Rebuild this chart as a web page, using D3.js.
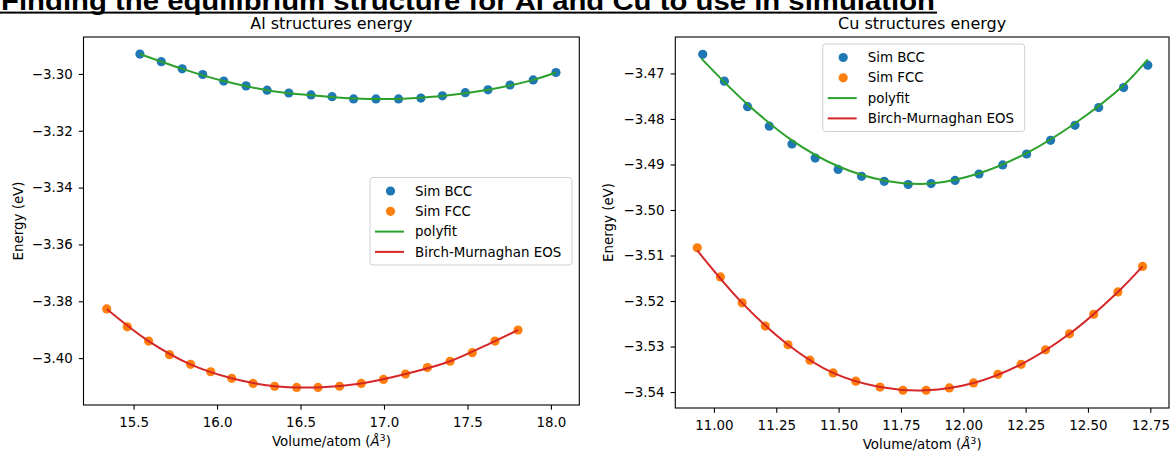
<!DOCTYPE html>
<html>
<head>
<meta charset="utf-8">
<script src="https://cdn.jsdelivr.net/npm/d3@7"></script>
<style>
  body { margin: 0; background: #fff; }
  svg { display: block; }
  text { font-family: "DejaVu Sans", sans-serif; fill: #000; }
</style>
</head>
<body>
<svg id="chart"></svg>
<script>
// Al data
const alBccVol = [15.538, 15.666, 15.791, 15.914, 16.040, 16.174, 16.300, 16.430, 16.563, 16.689,
                  16.818, 16.952, 17.087, 17.221, 17.350, 17.487, 17.623, 17.755, 17.894, 18.030]
const alBccE   = [-3.2930, -3.2957, -3.2982, -3.3002, -3.3025, -3.3042, -3.3057, -3.3067, -3.3074, -3.3080,
                  -3.3088, -3.3088, -3.3088, -3.3085, -3.3077, -3.3066, -3.3056, -3.3039, -3.3021, -3.2995]
const alFccVol = [15.339, 15.462, 15.590, 15.715, 15.841, 15.962, 16.088, 16.216, 16.345, 16.477,
                  16.605, 16.734, 16.864, 16.997, 17.129, 17.260, 17.396, 17.529, 17.665, 17.803]
const alFccE   = [-3.3827, -3.3890, -3.3940, -3.3988, -3.4022, -3.4048, -3.4071, -3.4089, -3.4099, -3.4103,
                  -3.4103, -3.4099, -3.4089, -3.4075, -3.4056, -3.4033, -3.4011, -3.3981, -3.3940, -3.3901]
// fitted curves
const alPolyVol = [15.538, 15.791, 16.040, 16.300, 16.563, 16.818, 17.087, 17.350, 17.623, 17.894, 18.030]
const alPolyE   = [-3.2930, -3.2982, -3.3025, -3.3057, -3.3075, -3.3086, -3.3088, -3.3078, -3.3056, -3.3021, -3.2995]
const alBmVol   = [15.339, 15.590, 15.841, 16.088, 16.345, 16.605, 16.864, 17.129, 17.396, 17.665, 17.803]
const alBmE     = [-3.3827, -3.3940, -3.4022, -3.4071, -3.4099, -3.4103, -3.4089, -3.4056, -3.4011, -3.3940, -3.3901]

// Cu data
const cuBccVol = [10.955, 11.042, 11.135, 11.222, 11.313, 11.406, 11.498, 11.592, 11.683, 11.779,
                  11.871, 11.967, 12.063, 12.158, 12.254, 12.350, 12.448, 12.543, 12.643, 12.740]
const cuBccE   = [-3.4658, -3.4717, -3.4773, -3.4816, -3.4855, -3.4886, -3.4911, -3.4926, -3.4937, -3.4944,
                  -3.4942, -3.4935, -3.4921, -3.4901, -3.4877, -3.4847, -3.4814, -3.4775, -3.4731, -3.4682]
const cuFccVol = [10.933, 11.026, 11.113, 11.206, 11.297, 11.385, 11.478, 11.569, 11.666, 11.758,
                  11.851, 11.944, 12.041, 12.139, 12.232, 12.330, 12.426, 12.523, 12.620, 12.719]
const cuFccE   = [-3.5083, -3.5147, -3.5204, -3.5255, -3.5296, -3.5330, -3.5358, -3.5376, -3.5389, -3.5396,
                  -3.5396, -3.5391, -3.5380, -3.5361, -3.5339, -3.5307, -3.5272, -3.5229, -3.5180, -3.5124]
const cuPolyVol = [10.949, 11.133, 11.313, 11.498, 11.683, 11.871, 12.061, 12.254, 12.447, 12.643, 12.740]
const cuPolyE   = [-3.4667, -3.4767, -3.4847, -3.4904, -3.4935, -3.4942, -3.4920, -3.4875, -3.4810, -3.4726, -3.4669]
const cuBmVol   = [10.933, 11.113, 11.297, 11.478, 11.666, 11.851, 12.041, 12.232, 12.426, 12.620, 12.719]
const cuBmE     = [-3.5089, -3.5204, -3.5296, -3.5358, -3.5389, -3.5396, -3.5380, -3.5339, -3.5272, -3.5180, -3.5124]

// axis limits and ticks
const alXLim = [15.20, 18.17]
const alYLim = [-3.4165, -3.2870]
const alXTicks = [15.5, 16.0, 16.5, 17.0, 17.5, 18.0]
const alYTicks = [-3.30, -3.32, -3.34, -3.36, -3.38, -3.40]
const cuXLim = [10.845, 12.825]
const cuYLim = [-3.5435, -3.4620]
const cuXTicks = [11.00, 11.25, 11.50, 11.75, 12.00, 12.25, 12.50, 12.75]
const cuYTicks = [-3.47, -3.48, -3.49, -3.50, -3.51, -3.52, -3.53, -3.54]

const legendLabels = ['Sim BCC', 'Sim FCC', 'polyfit', 'Birch-Murnaghan EOS']
const colors = { bcc: '#1f77b4', fcc: '#ff7f0e', poly: '#2ca02c', bm: '#d62728' }

const width = 1173
const height = 452
const svg = d3.select('#chart').attr('width', width).attr('height', height)

const zip = (xs, ys) => xs.map((x, i) => [x, ys[i]])
const minus = s => s.replace('-', '\u2212')

// page heading (clipped at the top edge, as in the screenshot)
svg.append('text')
    .attr('x', 1).attr('y', 10)
    .attr('textLength', 934).attr('lengthAdjust', 'spacingAndGlyphs')
    .style('font-family', '"Liberation Sans", Arial, sans-serif')
    .style('font-weight', 'bold').style('font-size', '26px')
    .text('Finding the equilibrium structure for Al and Cu to use in simulation')
svg.append('rect').attr('x', 0).attr('y', 11.6).attr('width', 937).attr('height', 2).attr('fill', '#000')

const panels = [
    { title: 'Al structures energy', box: { l: 83.5, r: 579.3, t: 37, b: 405 },
      xLim: alXLim, yLim: alYLim, xTicks: alXTicks, yTicks: alYTicks, xFmt: d3.format('.1f'), yFmt: d3.format('.2f'),
      bcc: zip(alBccVol, alBccE), fcc: zip(alFccVol, alFccE), poly: zip(alPolyVol, alPolyE), bm: zip(alBmVol, alBmE),
      legend: { x: 370, y: 177.5 }, ylabelX: 18.5 },
    { title: 'Cu structures energy', box: { l: 675.3, r: 1169, t: 37, b: 408 },
      xLim: cuXLim, yLim: cuYLim, xTicks: cuXTicks, yTicks: cuYTicks, xFmt: d3.format('.2f'), yFmt: d3.format('.2f'),
      bcc: zip(cuBccVol, cuBccE), fcc: zip(cuFccVol, cuFccE), poly: zip(cuPolyVol, cuPolyE), bm: zip(cuBmVol, cuBmE),
      legend: { x: 822.7, y: 44 }, ylabelX: 608.5 }
]

panels.forEach(p => {
    const { l, r, t, b } = p.box
    const x = d3.scaleLinear().domain(p.xLim).range([l, r])
    const y = d3.scaleLinear().domain(p.yLim).range([b, t])

    const g = svg.append('g')

    // points
    g.selectAll('circle.bcc').data(p.bcc).enter().append('circle')
        .attr('class', 'bcc').attr('cx', d => x(d[0])).attr('cy', d => y(d[1]))
        .attr('r', 4.6).attr('fill', colors.bcc)
    g.selectAll('circle.fcc').data(p.fcc).enter().append('circle')
        .attr('class', 'fcc').attr('cx', d => x(d[0])).attr('cy', d => y(d[1]))
        .attr('r', 4.6).attr('fill', colors.fcc)

    // fit lines
    const line = d3.line().x(d => x(d[0])).y(d => y(d[1])).curve(d3.curveCatmullRom.alpha(0.5))
    g.append('path').datum(p.poly).attr('d', line)
        .attr('fill', 'none').attr('stroke', colors.poly).attr('stroke-width', 2)
    g.append('path').datum(p.bm).attr('d', line)
        .attr('fill', 'none').attr('stroke', colors.bm).attr('stroke-width', 2)

    // axes
    const xAxis = d3.axisBottom(x).tickValues(p.xTicks).tickFormat(p.xFmt).tickSize(4.7).tickPadding(7.5).tickSizeOuter(0)
    const yAxis = d3.axisLeft(y).tickValues(p.yTicks).tickFormat(d => minus(p.yFmt(d))).tickSize(4.7).tickPadding(6).tickSizeOuter(0)
    const gx = svg.append('g').attr('transform', `translate(0,${b})`).call(xAxis)
    const gy = svg.append('g').attr('transform', `translate(${l},0)`).call(yAxis)
    ;[gx, gy].forEach(a => {
        a.select('.domain').remove()
        a.selectAll('.tick line').attr('stroke', '#000').attr('stroke-width', 1.1)
        a.selectAll('.tick text').style('font-family', '"DejaVu Sans", sans-serif').style('font-size', '13.4px').attr('fill', '#000')
    })

    // frame
    svg.append('rect').attr('x', l).attr('y', t).attr('width', r - l).attr('height', b - t)
        .attr('fill', 'none').attr('stroke', '#000').attr('stroke-width', 1.1)

    // title and labels
    svg.append('text').attr('x', (l + r) / 2).attr('y', t - 8).attr('text-anchor', 'middle')
        .style('font-size', '16px').text(p.title)
    const xl = svg.append('text').attr('x', (l + r) / 2).attr('y', b + 41).attr('text-anchor', 'middle')
        .style('font-size', '13.4px')
    xl.append('tspan').text('Volume/atom (')
    xl.append('tspan').style('font-style', 'italic').text('\u00c5')
    xl.append('tspan').attr('dy', -5).style('font-size', '9.5px').text('3')
    xl.append('tspan').attr('dy', 5).text(')')
    svg.append('text')
        .attr('transform', `translate(${p.ylabelX},${(t + b) / 2}) rotate(-90)`)
        .attr('text-anchor', 'middle').attr('dy', '0.35em')
        .style('font-size', '13.4px').text('Energy (eV)')

    // legend
    const lg = svg.append('g').attr('transform', `translate(${p.legend.x},${p.legend.y})`)
    lg.append('rect').attr('width', 202).attr('height', 87.5).attr('rx', 3)
        .attr('fill', '#fff').attr('fill-opacity', 0.8).attr('stroke', '#d0d0d0').attr('stroke-width', 1)
    const keys = ['bcc', 'fcc', 'poly', 'bm']
    legendLabels.forEach((lab, i) => {
        const cy = 13.5 + i * 20.3
        if (i < 2) {
            lg.append('circle').attr('cx', 20.5).attr('cy', cy).attr('r', 4.6).attr('fill', colors[keys[i]])
        } else {
            lg.append('line').attr('x1', 5).attr('x2', 34).attr('y1', cy).attr('y2', cy)
                .attr('stroke', colors[keys[i]]).attr('stroke-width', 2)
        }
        lg.append('text').attr('x', 45).attr('y', cy).attr('dy', '0.35em')
            .style('font-size', '13.4px').text(lab)
    })
})
</script>
</body>
</html>
